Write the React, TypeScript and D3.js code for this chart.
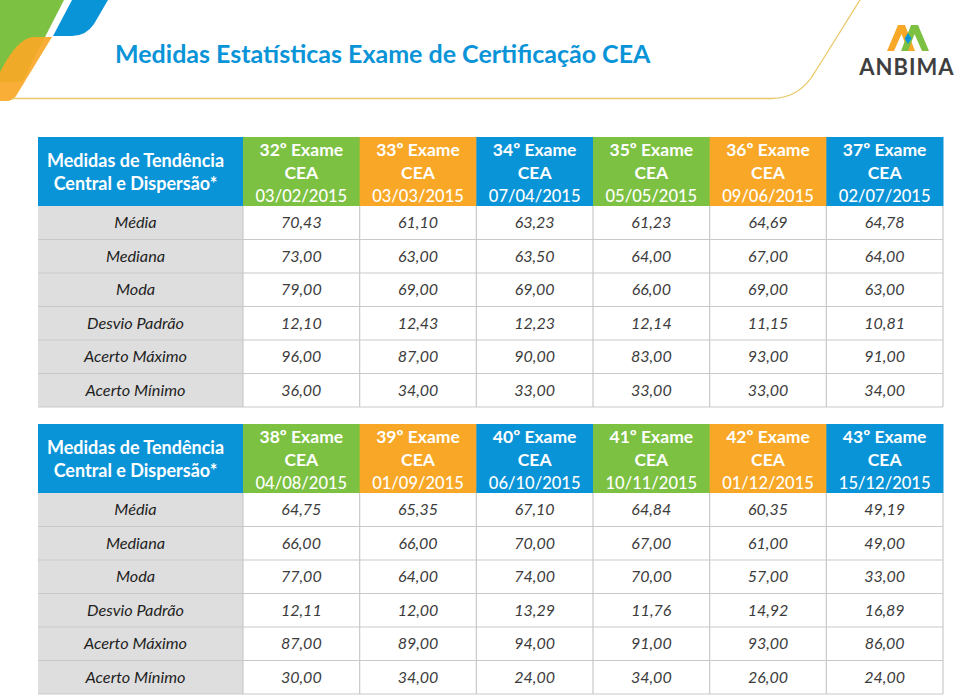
import React from 'react';
import * as d3 from 'd3';

// ── Data ────────────────────────────────────────────────────────────────────
const ROW_LABELS = ['Média', 'Mediana', 'Moda', 'Desvio Padrão', 'Acerto Máximo', 'Acerto Mínimo'];

const EXAMS_1 = ['32º Exame', '33º Exame', '34º Exame', '35º Exame', '36º Exame', '37º Exame'];
const DATES_1 = ['03/02/2015', '03/03/2015', '07/04/2015', '05/05/2015', '09/06/2015', '02/07/2015'];
const MEDIA_1 = [70.43, 61.10, 63.23, 61.23, 64.69, 64.78];
const MEDIANA_1 = [73, 63, 63.5, 64, 67, 64];
const MODA_1 = [79, 69, 69, 66, 69, 63];
const DESVIO_1 = [12.10, 12.43, 12.23, 12.14, 11.15, 10.81];
const MAX_1 = [96, 87, 90, 83, 93, 91];
const MIN_1 = [36, 34, 33, 33, 33, 34];

const EXAMS_2 = ['38º Exame', '39º Exame', '40º Exame', '41º Exame', '42º Exame', '43º Exame'];
const DATES_2 = ['04/08/2015', '01/09/2015', '06/10/2015', '10/11/2015', '01/12/2015', '15/12/2015'];
const MEDIA_2 = [64.75, 65.35, 67.10, 64.84, 60.35, 49.19];
const MEDIANA_2 = [66, 66, 70, 67, 61, 49];
const MODA_2 = [77, 64, 74, 70, 57, 33];
const DESVIO_2 = [12.11, 12.00, 13.29, 11.76, 14.92, 16.89];
const MAX_2 = [87, 89, 94, 91, 93, 86];
const MIN_2 = [30, 34, 24, 34, 26, 24];

const HEADER_COLORS = ['#7cc142', '#f8a826', '#0a94d8'];

// ── Styling ─────────────────────────────────────────────────────────────────
const FONT = 'Lato, "Open Sans", sans-serif';
const BLUE = '#0a94d8';
const GRID = '#c9c9c9';
const fmt = (v: number) => d3.format('.2f')(v).replace('.', ',');

const W = 960, H = 697;
const X0 = 38, X1 = 243, X2 = 943;
const LABEL_CX = 135.5;

type TableProps = {
  exams: string[];
  dates: string[];
  rows: number[][];
  top: number;
};

function StatTable({ exams, dates, rows, top }: TableProps) {
  const headH = 69;
  const rowH = 33.5;
  const x = d3.scaleBand<number>().domain(d3.range(exams.length)).range([X1, X2]);
  const y = d3.scaleBand<string>().domain(ROW_LABELS).range([top + headH, top + headH + rowH * ROW_LABELS.length]);
  const bottom = top + headH + rowH * ROW_LABELS.length;

  return (
    <g>
      {/* header */}
      <rect x={X0} y={top} width={X1 - X0} height={headH} fill={BLUE} />
      <text x={LABEL_CX} y={top + 29.5} textAnchor="middle" fill="#fff" fontWeight={700} fontSize={18} fontFamily={FONT}>
        Medidas de Tendência
      </text>
      <text x={LABEL_CX} y={top + 52.5} textAnchor="middle" fill="#fff" fontWeight={700} fontSize={18} fontFamily={FONT}>
        Central e Dispersão*
      </text>
      {exams.map((e, i) => {
        const cx = x(i)! + x.bandwidth() / 2;
        return (
          <g key={e}>
            <rect x={x(i)!} y={top} width={x.bandwidth() + 0.5} height={headH} fill={HEADER_COLORS[i % 3]} />
            <text x={cx} y={top + 18.5} textAnchor="middle" fill="#fff" fontWeight={700} fontSize={17.5} fontFamily={FONT}>{e}</text>
            <text x={cx} y={top + 41.5} textAnchor="middle" fill="#fff" fontWeight={700} fontSize={17.5} fontFamily={FONT}>CEA</text>
            <text x={cx} y={top + 64.5} textAnchor="middle" fill="#fff" fontWeight={500} fontSize={16.5} fontFamily={FONT}>{dates[i]}</text>
          </g>
        );
      })}

      {/* body */}
      <rect x={X0} y={top + headH} width={X1 - X0} height={bottom - top - headH} fill="#dedede" />
      <rect x={X1} y={top + headH} width={X2 - X1} height={bottom - top - headH} fill="#fff" />
      {ROW_LABELS.map((lab, r) => (
        <g key={lab}>
          <line x1={X0} x2={X2} y1={y(lab)! + rowH} y2={y(lab)! + rowH} stroke={GRID} strokeWidth={1.2} />
          <text x={LABEL_CX} y={y(lab)! + rowH / 2 + 5.5} textAnchor="middle" fill="#1e1e1e" fontStyle="italic" fontSize={16.3} fontFamily={FONT}>
            {lab}
          </text>
          {rows[r].map((v, i) => (
            <text key={i} x={x(i)! + x.bandwidth() / 2} y={y(lab)! + rowH / 2 + 5.5} textAnchor="middle" fill="#3c3c3c" fontStyle="italic" fontSize={16} fontFamily={FONT}>
              {fmt(v)}
            </text>
          ))}
        </g>
      ))}
      {d3.range(exams.length + 1).map(i => {
        const xx = i < exams.length ? x(i)! : X2;
        return <line key={i} x1={xx} x2={xx} y1={top + headH} y2={bottom} stroke={GRID} strokeWidth={1.2} />;
      })}
    </g>
  );
}

export default function App() {
  const rows1 = [MEDIA_1, MEDIANA_1, MODA_1, DESVIO_1, MAX_1, MIN_1];
  const rows2 = [MEDIA_2, MEDIANA_2, MODA_2, DESVIO_2, MAX_2, MIN_2];

  return (
    <svg width={W} height={H} viewBox={`0 0 ${W} ${H}`} style={{ position: 'absolute', left: 0, top: 0, background: '#fff' }}>
      {/* corner decoration */}
      <path d="M0,0 L64,0 L22,82 L0,82 Z" fill="#7cc142" />
      <path d="M72,0 L108,0 L94,24 Q86,36 72,36 L53,36 Z" fill="#0a94d8" />
      <path d="M34,37 L52,37 L16,96 Q13,101 6,101 L0,101 L0,72 Q18,37 34,37 Z" fill="#f8a826" opacity={0.92} />
      <path d="M12,98.5 L772,98.5 Q800,98 815,72 L860,0" fill="none" stroke="#e9c86a" strokeWidth={1.3} />

      {/* title */}
      <text x={115} y={63} fill={BLUE} fontWeight={700} fontSize={25} fontFamily={FONT}>
        Medidas Estatísticas Exame de Certificação CEA
      </text>

      {/* logo */}
      <path d="M887,51 L898,25 L905,25 L915,51 L908,51 L901.5,34 L894,51 Z" fill="#f8a826" />
      <path d="M901,51 L911,25 L918,25 L929,51 L922,51 L914.5,34 L908,51 Z" fill="#7cc142" />
      <path d="M908,33 L911.5,38.5 L908,44 L904.5,38.5 Z" fill="#0a94d8" />
      <text x={907} y={75} textAnchor="middle" fill="#3f3f3f" fontWeight={700} fontSize={22} letterSpacing={1} fontFamily={FONT}>
        ANBIMA
      </text>

      <StatTable exams={EXAMS_1} dates={DATES_1} rows={rows1} top={137} />
      <StatTable exams={EXAMS_2} dates={DATES_2} rows={rows2} top={424} />
    </svg>
  );
}
